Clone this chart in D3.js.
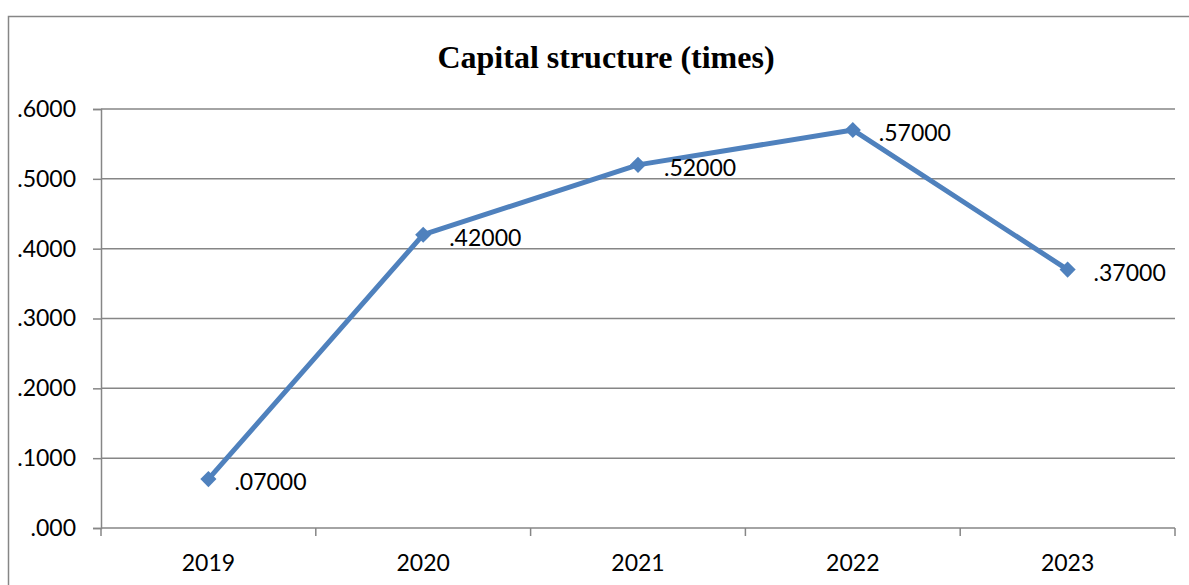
<!DOCTYPE html>
<html>
<head>
<meta charset="utf-8">
<script src="https://cdn.jsdelivr.net/npm/d3@7"></script>
<style>
  body { margin: 0; background: #fff; }
  svg { display: block; }
</style>
</head>
<body>
<div id="chart"></div>
<script>
const years = ['2019', '2020', '2021', '2022', '2023'];
const values = [0.07, 0.42, 0.52, 0.57, 0.37];
const pointLabels = ['.07000', '.42000', '.52000', '.57000', '.37000'];
const yTicks = [0, 0.1, 0.2, 0.3, 0.4, 0.5, 0.6];
const yTickLabels = ['.000', '.1000', '.2000', '.3000', '.4000', '.5000', '.6000'];

const W = 1189, H = 585;
const margin = { top: 109, right: 14, bottom: 57, left: 101 };
const width = W - margin.left - margin.right;
const height = H - margin.top - margin.bottom;
const gray = '#868686';
const blue = '#4f81bd';
const font = 'Lato, "Open Sans", sans-serif';
const fs = '23px';

const root = d3.select('#chart').append('svg')
  .attr('width', W)
  .attr('height', H);

// outer chart border
root.append('rect')
  .attr('x', 8.5).attr('y', 16.5)
  .attr('width', W + 20).attr('height', H + 20)
  .attr('fill', 'none')
  .attr('stroke', gray)
  .attr('stroke-width', 1.5);

root.append('text')
  .attr('x', 606).attr('y', 68)
  .attr('text-anchor', 'middle')
  .style('font-family', '"Liberation Serif", "Times New Roman", serif')
  .style('font-weight', 'bold')
  .style('font-size', '32px')
  .text('Capital structure (times)');

const svg = root.append('g')
  .attr('transform', `translate(${margin.left},${margin.top})`);

const x = d3.scaleBand().domain(years).range([0, width]);
const y = d3.scaleLinear().domain([0, 0.6]).range([height, 0]);

// gridlines
svg.append('g')
  .selectAll('line')
  .data(yTicks.slice(1))
  .join('line')
  .attr('x1', 0).attr('x2', width)
  .attr('y1', d => y(d)).attr('y2', d => y(d))
  .attr('stroke', gray)
  .attr('stroke-width', 1.5);

// y axis
const yAxis = svg.append('g')
  .call(d3.axisLeft(y).tickValues(yTicks).tickSize(8).tickPadding(17)
    .tickFormat((d, i) => yTickLabels[i]));
yAxis.select('.domain').attr('stroke', gray).attr('stroke-width', 1.5);
yAxis.selectAll('.tick line').attr('stroke', gray).attr('stroke-width', 1.5);
yAxis.selectAll('.tick text')
  .style('font-family', font)
  .style('font-size', fs)
  .attr('fill', '#000');

// x axis: ticks at category boundaries
const xAxis = svg.append('g')
  .attr('transform', `translate(0,${height})`);
xAxis.append('line')
  .attr('x1', 0).attr('x2', width)
  .attr('stroke', gray).attr('stroke-width', 1.5);
const bounds = years.map(d => x(d)).concat([width]);
xAxis.selectAll('.xt')
  .data(bounds)
  .join('line')
  .attr('class', 'xt')
  .attr('x1', d => d).attr('x2', d => d)
  .attr('y1', 0).attr('y2', 8)
  .attr('stroke', gray).attr('stroke-width', 1.5);
xAxis.selectAll('.xl')
  .data(years)
  .join('text')
  .attr('class', 'xl')
  .attr('x', d => x(d) + x.bandwidth() / 2)
  .attr('y', 43)
  .attr('text-anchor', 'middle')
  .style('font-family', font)
  .style('font-size', fs)
  .text(d => d);

const cx = d => x(d) + x.bandwidth() / 2;

svg.append('path')
  .datum(values)
  .attr('fill', 'none')
  .attr('stroke', blue)
  .attr('stroke-width', 5)
  .attr('stroke-linejoin', 'round')
  .attr('d', d3.line().x((d, i) => cx(years[i])).y(d => y(d)));

svg.selectAll('.mk')
  .data(values)
  .join('path')
  .attr('class', 'mk')
  .attr('transform', (d, i) => `translate(${cx(years[i])},${y(d)}) rotate(45)`)
  .attr('d', d3.symbol(d3.symbolSquare, 130)())
  .attr('fill', blue);

svg.selectAll('.lbl')
  .data(values)
  .join('text')
  .attr('class', 'lbl')
  .attr('x', (d, i) => cx(years[i]) + 26)
  .attr('y', d => y(d) + 11)
  .style('font-family', font)
  .style('font-size', fs)
  .text((d, i) => pointLabels[i]);
</script>
</body>
</html>
